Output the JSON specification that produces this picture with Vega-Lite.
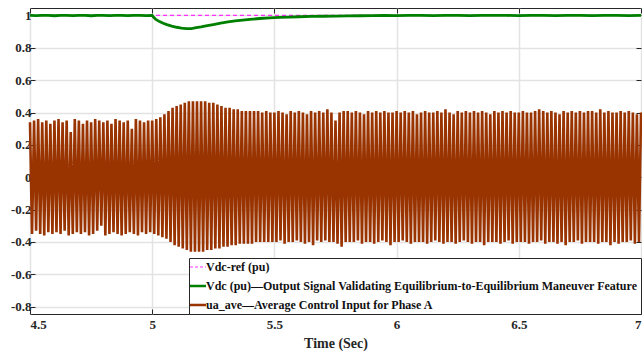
{
"$schema": "https://vega.github.io/schema/vega-lite/v6.json",
"width": 611, "height": 306,
"autosize": {"type": "none"},
"padding": {"left": 30, "top": 8, "right": 1, "bottom": 40},
"background": "white",
"datasets": {
"u": [
{"t":4.5,"v":0.34},{"t":4.5083,"v":-0.35},{"t":4.5167,"v":0.35},{"t":4.525,"v":-0.33},{"t":4.5333,"v":0.36},{"t":4.5417,"v":-0.35},{"t":4.55,"v":0.34},{"t":4.5583,"v":-0.36},{"t":4.5667,"v":0.35},{"t":4.575,"v":-0.34},{"t":4.5833,"v":0.33},{"t":4.5917,"v":-0.35},
{"t":4.6,"v":0.35},{"t":4.6083,"v":-0.34},{"t":4.6167,"v":0.36},{"t":4.625,"v":-0.35},{"t":4.6333,"v":0.34},{"t":4.6417,"v":-0.33},{"t":4.65,"v":0.35},{"t":4.6583,"v":-0.36},{"t":4.6667,"v":0.28},{"t":4.675,"v":-0.35},{"t":4.6833,"v":0.36},{"t":4.6917,"v":-0.34},
{"t":4.7,"v":0.35},{"t":4.7083,"v":-0.35},{"t":4.7167,"v":0.33},{"t":4.725,"v":-0.34},{"t":4.7333,"v":0.35},{"t":4.7417,"v":-0.36},{"t":4.75,"v":0.34},{"t":4.7583,"v":-0.35},{"t":4.7667,"v":0.36},{"t":4.775,"v":-0.33},{"t":4.7833,"v":0.35},{"t":4.7917,"v":-0.3},
{"t":4.8,"v":0.34},{"t":4.8083,"v":-0.36},{"t":4.8167,"v":0.35},{"t":4.825,"v":-0.35},{"t":4.8333,"v":0.33},{"t":4.8417,"v":-0.34},{"t":4.85,"v":0.36},{"t":4.8583,"v":-0.35},{"t":4.8667,"v":0.35},{"t":4.875,"v":-0.36},{"t":4.8833,"v":0.34},{"t":4.8917,"v":-0.35},
{"t":4.9,"v":0.35},{"t":4.9083,"v":-0.34},{"t":4.9167,"v":0.3},{"t":4.925,"v":-0.35},{"t":4.9333,"v":0.36},{"t":4.9417,"v":-0.36},{"t":4.95,"v":0.35},{"t":4.9583,"v":-0.34},{"t":4.9667,"v":0.34},{"t":4.975,"v":-0.35},{"t":4.9833,"v":0.35},{"t":4.9917,"v":-0.34},
{"t":5.0,"v":0.35},{"t":5.0083,"v":-0.35},{"t":5.0167,"v":0.36},{"t":5.025,"v":-0.36},{"t":5.0333,"v":0.37},{"t":5.0417,"v":-0.37},{"t":5.05,"v":0.39},{"t":5.0583,"v":-0.38},{"t":5.0667,"v":0.41},{"t":5.075,"v":-0.4},{"t":5.0833,"v":0.43},{"t":5.0917,"v":-0.42},
{"t":5.1,"v":0.44},{"t":5.1083,"v":-0.43},{"t":5.1167,"v":0.45},{"t":5.125,"v":-0.44},{"t":5.1333,"v":0.46},{"t":5.1417,"v":-0.45},{"t":5.15,"v":0.47},{"t":5.1583,"v":-0.46},{"t":5.1667,"v":0.47},{"t":5.175,"v":-0.46},{"t":5.1833,"v":0.47},{"t":5.1917,"v":-0.46},
{"t":5.2,"v":0.47},{"t":5.2083,"v":-0.46},{"t":5.2167,"v":0.47},{"t":5.225,"v":-0.45},{"t":5.2333,"v":0.46},{"t":5.2417,"v":-0.45},{"t":5.25,"v":0.46},{"t":5.2583,"v":-0.44},{"t":5.2667,"v":0.45},{"t":5.275,"v":-0.44},{"t":5.2833,"v":0.44},{"t":5.2917,"v":-0.43},
{"t":5.3,"v":0.43},{"t":5.3083,"v":-0.43},{"t":5.3167,"v":0.43},{"t":5.325,"v":-0.42},{"t":5.3333,"v":0.42},{"t":5.3417,"v":-0.42},{"t":5.35,"v":0.42},{"t":5.3583,"v":-0.41},{"t":5.3667,"v":0.41},{"t":5.375,"v":-0.41},{"t":5.3833,"v":0.41},{"t":5.3917,"v":-0.41},
{"t":5.4,"v":0.41},{"t":5.4083,"v":-0.41},{"t":5.4167,"v":0.41},{"t":5.425,"v":-0.4},{"t":5.4333,"v":0.41},{"t":5.4417,"v":-0.4},{"t":5.45,"v":0.4},{"t":5.4583,"v":-0.4},{"t":5.4667,"v":0.41},{"t":5.475,"v":-0.4},{"t":5.4833,"v":0.4},{"t":5.4917,"v":-0.4},
{"t":5.5,"v":0.4},{"t":5.5083,"v":-0.4},{"t":5.5167,"v":0.41},{"t":5.525,"v":-0.39},{"t":5.5333,"v":0.4},{"t":5.5417,"v":-0.41},{"t":5.55,"v":0.39},{"t":5.5583,"v":-0.4},{"t":5.5667,"v":0.41},{"t":5.575,"v":-0.4},{"t":5.5833,"v":0.4},{"t":5.5917,"v":-0.39},
{"t":5.6,"v":0.41},{"t":5.6083,"v":-0.4},{"t":5.6167,"v":0.4},{"t":5.625,"v":-0.41},{"t":5.6333,"v":0.39},{"t":5.6417,"v":-0.4},{"t":5.65,"v":0.41},{"t":5.6583,"v":-0.42},{"t":5.6667,"v":0.4},{"t":5.675,"v":-0.39},{"t":5.6833,"v":0.41},{"t":5.6917,"v":-0.4},
{"t":5.7,"v":0.4},{"t":5.7083,"v":-0.39},{"t":5.7167,"v":0.42},{"t":5.725,"v":-0.4},{"t":5.7333,"v":0.4},{"t":5.7417,"v":-0.4},{"t":5.75,"v":0.35},{"t":5.7583,"v":-0.41},{"t":5.7667,"v":0.4},{"t":5.775,"v":-0.43},{"t":5.7833,"v":0.41},{"t":5.7917,"v":-0.4},
{"t":5.8,"v":0.41},{"t":5.8083,"v":-0.4},{"t":5.8167,"v":0.4},{"t":5.825,"v":-0.4},{"t":5.8333,"v":0.41},{"t":5.8417,"v":-0.39},{"t":5.85,"v":0.4},{"t":5.8583,"v":-0.41},{"t":5.8667,"v":0.39},{"t":5.875,"v":-0.4},{"t":5.8833,"v":0.41},{"t":5.8917,"v":-0.4},
{"t":5.9,"v":0.4},{"t":5.9083,"v":-0.41},{"t":5.9167,"v":0.41},{"t":5.925,"v":-0.4},{"t":5.9333,"v":0.4},{"t":5.9417,"v":-0.39},{"t":5.95,"v":0.41},{"t":5.9583,"v":-0.4},{"t":5.9667,"v":0.4},{"t":5.975,"v":-0.42},{"t":5.9833,"v":0.4},{"t":5.9917,"v":-0.4},
{"t":6.0,"v":0.41},{"t":6.0083,"v":-0.4},{"t":6.0167,"v":0.4},{"t":6.025,"v":-0.39},{"t":6.0333,"v":0.41},{"t":6.0417,"v":-0.4},{"t":6.05,"v":0.4},{"t":6.0583,"v":-0.41},{"t":6.0667,"v":0.41},{"t":6.075,"v":-0.4},{"t":6.0833,"v":0.39},{"t":6.0917,"v":-0.4},
{"t":6.1,"v":0.4},{"t":6.1083,"v":-0.4},{"t":6.1167,"v":0.41},{"t":6.125,"v":-0.41},{"t":6.1333,"v":0.4},{"t":6.1417,"v":-0.4},{"t":6.15,"v":0.4},{"t":6.1583,"v":-0.39},{"t":6.1667,"v":0.41},{"t":6.175,"v":-0.4},{"t":6.1833,"v":0.4},{"t":6.1917,"v":-0.41},
{"t":6.2,"v":0.42},{"t":6.2083,"v":-0.4},{"t":6.2167,"v":0.4},{"t":6.225,"v":-0.4},{"t":6.2333,"v":0.39},{"t":6.2417,"v":-0.41},{"t":6.25,"v":0.41},{"t":6.2583,"v":-0.4},{"t":6.2667,"v":0.4},{"t":6.275,"v":-0.39},{"t":6.2833,"v":0.41},{"t":6.2917,"v":-0.4},
{"t":6.3,"v":0.4},{"t":6.3083,"v":-0.41},{"t":6.3167,"v":0.41},{"t":6.325,"v":-0.4},{"t":6.3333,"v":0.4},{"t":6.3417,"v":-0.4},{"t":6.35,"v":0.41},{"t":6.3583,"v":-0.42},{"t":6.3667,"v":0.4},{"t":6.375,"v":-0.4},{"t":6.3833,"v":0.39},{"t":6.3917,"v":-0.4},
{"t":6.4,"v":0.41},{"t":6.4083,"v":-0.4},{"t":6.4167,"v":0.4},{"t":6.425,"v":-0.41},{"t":6.4333,"v":0.41},{"t":6.4417,"v":-0.4},{"t":6.45,"v":0.4},{"t":6.4583,"v":-0.39},{"t":6.4667,"v":0.41},{"t":6.475,"v":-0.41},{"t":6.4833,"v":0.4},{"t":6.4917,"v":-0.4},
{"t":6.5,"v":0.4},{"t":6.5083,"v":-0.4},{"t":6.5167,"v":0.41},{"t":6.525,"v":-0.4},{"t":6.5333,"v":0.4},{"t":6.5417,"v":-0.41},{"t":6.55,"v":0.4},{"t":6.5583,"v":-0.4},{"t":6.5667,"v":0.41},{"t":6.575,"v":-0.4},{"t":6.5833,"v":0.42},{"t":6.5917,"v":-0.39},
{"t":6.6,"v":0.41},{"t":6.6083,"v":-0.41},{"t":6.6167,"v":0.4},{"t":6.625,"v":-0.4},{"t":6.6333,"v":0.41},{"t":6.6417,"v":-0.4},{"t":6.65,"v":0.4},{"t":6.6583,"v":-0.41},{"t":6.6667,"v":0.39},{"t":6.675,"v":-0.4},{"t":6.6833,"v":0.41},{"t":6.6917,"v":-0.42},
{"t":6.7,"v":0.4},{"t":6.7083,"v":-0.4},{"t":6.7167,"v":0.41},{"t":6.725,"v":-0.4},{"t":6.7333,"v":0.4},{"t":6.7417,"v":-0.39},{"t":6.75,"v":0.41},{"t":6.7583,"v":-0.41},{"t":6.7667,"v":0.4},{"t":6.775,"v":-0.4},{"t":6.7833,"v":0.41},{"t":6.7917,"v":-0.4},
{"t":6.8,"v":0.41},{"t":6.8083,"v":-0.4},{"t":6.8167,"v":0.4},{"t":6.825,"v":-0.41},{"t":6.8333,"v":0.42},{"t":6.8417,"v":-0.4},{"t":6.85,"v":0.4},{"t":6.8583,"v":-0.4},{"t":6.8667,"v":0.41},{"t":6.875,"v":-0.42},{"t":6.8833,"v":0.4},{"t":6.8917,"v":-0.4},
{"t":6.9,"v":0.4},{"t":6.9083,"v":-0.41},{"t":6.9167,"v":0.41},{"t":6.925,"v":-0.4},{"t":6.9333,"v":0.4},{"t":6.9417,"v":-0.4},{"t":6.95,"v":0.41},{"t":6.9583,"v":-0.39},{"t":6.9667,"v":0.4},{"t":6.975,"v":-0.41},{"t":6.9833,"v":0.39},{"t":6.9917,"v":-0.4},
{"t":7.0,"v":0.4}
],
"g": [
{"t":4.5,"v":1.0},{"t":4.525,"v":0.999},{"t":4.55,"v":1.001},{"t":4.575,"v":1.0},{"t":4.6,"v":0.998},{"t":4.625,"v":1.001},{"t":4.65,"v":1.0},{"t":4.675,"v":0.999},{"t":4.7,"v":1.001},{"t":4.725,"v":1.0},{"t":4.75,"v":0.998},{"t":4.775,"v":1.0},{"t":4.8,"v":1.001},{"t":4.825,"v":0.999},{"t":4.85,"v":1.0},{"t":4.875,"v":1.001},{"t":4.9,"v":0.999},{"t":4.925,"v":1.0},{"t":4.95,"v":1.001},{"t":4.975,"v":0.999},
{"t":5.0,"v":1.0},{"t":5.005,"v":0.99},{"t":5.015,"v":0.975},{"t":5.03,"v":0.962},{"t":5.045,"v":0.952},{"t":5.06,"v":0.943},{"t":5.08,"v":0.934},{"t":5.1,"v":0.927},{"t":5.12,"v":0.922},{"t":5.14,"v":0.918},{"t":5.16,"v":0.919},{"t":5.18,"v":0.924},{"t":5.2,"v":0.929},{"t":5.22,"v":0.935},{"t":5.25,"v":0.944},{"t":5.28,"v":0.952},{"t":5.31,"v":0.96},{"t":5.34,"v":0.966},{"t":5.37,"v":0.971},{"t":5.4,"v":0.976},{"t":5.44,"v":0.981},{"t":5.48,"v":0.985},{"t":5.52,"v":0.988},{"t":5.56,"v":0.99},{"t":5.6,"v":0.992},{"t":5.65,"v":0.994},{"t":5.7,"v":0.995},{"t":5.75,"v":0.996},{"t":5.8,"v":0.997},{"t":5.85,"v":0.998},{"t":5.9,"v":0.999},{"t":5.95,"v":1.0},
{"t":6.0,"v":0.999},{"t":6.05,"v":1.001},{"t":6.1,"v":1.0},{"t":6.15,"v":0.999},{"t":6.2,"v":1.001},{"t":6.25,"v":1.0},{"t":6.3,"v":0.999},{"t":6.35,"v":1.001},{"t":6.4,"v":1.0},{"t":6.45,"v":1.0},{"t":6.5,"v":0.999},{"t":6.55,"v":1.001},{"t":6.6,"v":1.0},{"t":6.65,"v":0.999},{"t":6.7,"v":1.001},{"t":6.75,"v":1.0},{"t":6.8,"v":0.999},{"t":6.85,"v":1.001},{"t":6.9,"v":1.0},{"t":6.95,"v":0.999},{"t":7.0,"v":1.0}
],
"r": [{"t":4.5,"v":1.0},{"t":7.0,"v":1.0}]
},
"config": {
"view": {"stroke": "#262626", "strokeWidth": 1},
"axis": {"labelFont": "Liberation Serif", "labelFontWeight": "bold", "labelFontSize": 13, "labelColor": "#262626", "titleFont": "Liberation Serif", "titleFontWeight": "bold", "titleFontSize": 14, "titleColor": "#262626", "tickColor": "#262626", "tickSize": -5, "domain": false, "gridColor": "#e3e3e3", "gridWidth": 1.5},
"legend": {"orient": "bottom-right", "offset": 0, "labelFont": "Liberation Serif", "labelFontWeight": "bold", "labelFontSize": 12, "labelColor": "#111111", "labelLimit": 1000, "symbolType": "stroke", "symbolSize": 256, "symbolStrokeWidth": 2.5, "strokeColor": "#262626", "fillColor": "white", "padding": 3, "rowPadding": 7, "labelOffset": 2, "cornerRadius": 0}
},
"layer": [
{"data": {"name": "u"},
 "mark": {"type": "line", "strokeWidth": 2.6, "strokeJoin": "bevel"},
 "encoding": {
  "x": {"field": "t", "type": "quantitative", "scale": {"domain": [4.5, 7], "nice": false, "zero": false}, "axis": {"values": [4.5, 5, 5.5, 6, 6.5, 7], "labelExpr": "'' + datum.value", "title": "Time (Sec)", "grid": true, "labelPadding": 9, "titlePadding": 5}},
  "y": {"field": "v", "type": "quantitative", "scale": {"domain": [-0.845, 1.046], "nice": false, "zero": false}, "axis": {"values": [-0.8, -0.6, -0.4, -0.2, 0, 0.2, 0.4, 0.6, 0.8, 1], "labelExpr": "'' + datum.value", "title": null, "grid": true, "labelPadding": 4}},
  "color": {"datum": "u", "type": "nominal", "scale": {"domain": ["r", "d", "u"], "range": ["#ff33ff", "#008000", "#993300"]},
   "legend": {"title": null, "labelExpr": "datum.value == 'r' ? 'Vdc-ref (pu)' : datum.value == 'd' ? 'Vdc (pu)—Output Signal Validating Equilibrium-to-Equilibrium Maneuver Feature' : 'ua_ave—Average Control Input for Phase A'",
    "encode": {"symbols": {"update": {"strokeDash": {"signal": "datum.value == 'r' ? [3, 2] : [1, 0]"}, "strokeWidth": {"signal": "datum.value == 'r' ? 1.2 : 2.5"}}}}}}
 }},
{"data": {"name": "r"},
 "mark": {"type": "line", "strokeWidth": 1.2, "strokeDash": [4, 3]},
 "encoding": {
  "x": {"field": "t", "type": "quantitative", "axis": {"orient": "top", "values": [4.5, 5, 5.5, 6, 6.5, 7], "labels": false, "grid": false, "title": null}},
  "y": {"field": "v", "type": "quantitative", "axis": {"orient": "right", "values": [-0.8, -0.6, -0.4, -0.2, 0, 0.2, 0.4, 0.6, 0.8, 1], "labels": false, "grid": false, "title": null}},
  "color": {"datum": "r", "type": "nominal", "scale": {"domain": ["r", "d", "u"], "range": ["#ff33ff", "#008000", "#993300"]}}
 }},
{"data": {"name": "g"},
 "mark": {"type": "line", "strokeWidth": 2.8},
 "encoding": {
  "x": {"field": "t", "type": "quantitative", "axis": null},
  "y": {"field": "v", "type": "quantitative", "axis": null},
  "color": {"datum": "d", "type": "nominal", "scale": {"domain": ["r", "d", "u"], "range": ["#ff33ff", "#008000", "#993300"]}}
 }}
],
"resolve": {"axis": {"x": "independent", "y": "independent"}}
}
